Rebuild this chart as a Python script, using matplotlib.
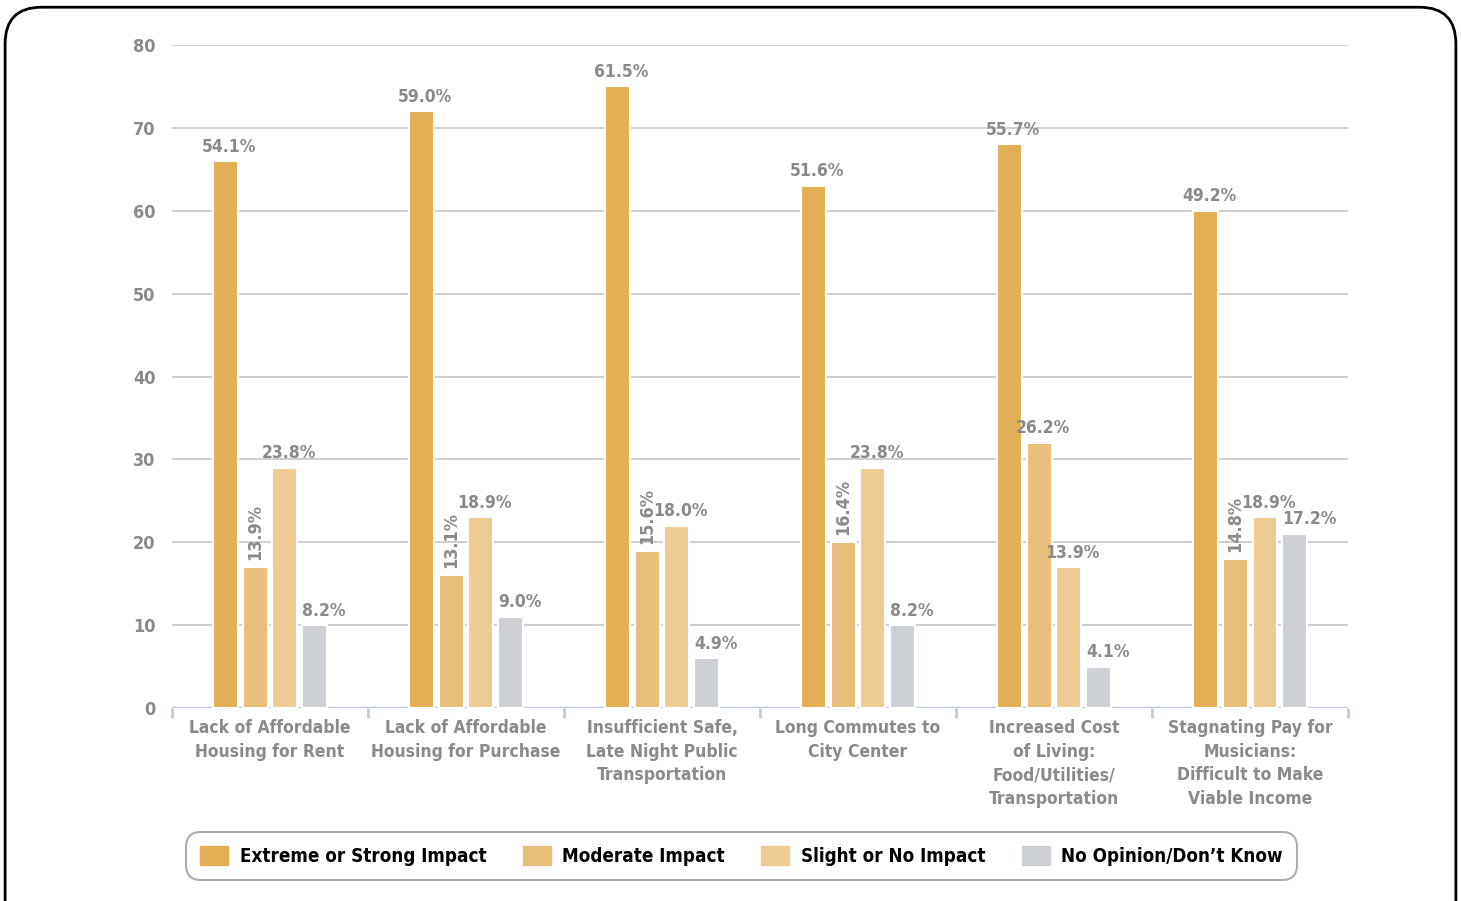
import numpy as np
import matplotlib
matplotlib.use('Agg')
import matplotlib.pyplot as plt
from matplotlib.patches import FancyBboxPatch

plt.rcParams['font.family'] = ['DejaVu Sans']
plt.rcParams['font.stretch'] = 'condensed'
plt.rcParams['font.weight'] = 'bold'

# data
categories = ['Lack of Affordable\nHousing for Rent',
              'Lack of Affordable\nHousing for Purchase',
              'Insufficient Safe,\nLate Night Public\nTransportation',
              'Long Commutes to\nCity Center',
              'Increased Cost\nof Living:\nFood/Utilities/\nTransportation',
              'Stagnating Pay for\nMusicians:\nDifficult to Make\nViable Income']
series = ['Extreme or Strong Impact', 'Moderate Impact', 'Slight or No Impact', 'No Opinion/Don\u2019t Know']
extreme = [66, 72, 75, 63, 68, 60]
moderate = [17, 16, 19, 20, 32, 18]
slight = [29, 23, 22, 29, 17, 23]
no_opinion = [10, 11, 6, 10, 5, 21]
pct_extreme = ['54.1%', '59.0%', '61.5%', '51.6%', '55.7%', '49.2%']
pct_moderate = ['13.9%', '13.1%', '15.6%', '16.4%', '26.2%', '14.8%']
pct_slight = ['23.8%', '18.9%', '18.0%', '23.8%', '13.9%', '18.9%']
pct_no_opinion = ['8.2%', '9.0%', '4.9%', '8.2%', '4.1%', '17.2%']

values = [extreme, moderate, slight, no_opinion]
labels = [pct_extreme, pct_moderate, pct_slight, pct_no_opinion]
colors = ['#e2af55', '#e8bf78', '#efcc93', '#cdd1d6']
label_gray = '#8a8a8a'
axis_blue = '#bccbdd'

fig = plt.figure(figsize=(14.61, 9.01), dpi=100)
ax = fig.add_axes([0.1177, 0.2142, 0.805, 0.7358])

x = np.arange(len(categories))
width = 0.127
offsets = [-0.228, -0.076, 0.076, 0.228]

for k in range(4):
    bars = ax.bar(x + offsets[k], values[k], width, color=colors[k],
                  edgecolor='white', linewidth=1.5, zorder=3)
    for i, b in enumerate(bars):
        h = b.get_height()
        cx = b.get_x() + b.get_width() / 2
        # moderate labels get turned when the next bar is taller
        if k == 1 and values[2][i] > h:
            ax.annotate(labels[k][i], (cx, h), xytext=(0, 5), textcoords='offset points',
                        ha='center', va='bottom', rotation=90, fontsize=13,
                        color=label_gray, fontweight='bold')
        elif k == 3:
            # last series labels start at the bar's left edge
            ax.annotate(labels[k][i], (b.get_x(), h), xytext=(0, 4), textcoords='offset points',
                        ha='left', va='bottom', fontsize=12.5,
                        color=label_gray, fontweight='bold')
        else:
            ax.annotate(labels[k][i], (cx + 0.02, h), xytext=(0, 4), textcoords='offset points',
                        ha='center', va='bottom', fontsize=12.5,
                        color=label_gray, fontweight='bold')

ax.set_ylim(0, 80)
ax.set_xlim(-0.5, len(categories) - 0.5)
ax.set_yticks(np.arange(0, 81, 10))
ax.yaxis.grid(True, color='#cccccc', linewidth=1.3, zorder=0)
ax.set_axisbelow(True)
for s in ['left', 'right', 'top', 'bottom']:
    ax.spines[s].set_visible(False)
ax.axhline(0, color=axis_blue, linewidth=2.5, zorder=2)

ax.tick_params(axis='y', length=0, pad=12, labelsize=13, labelcolor=label_gray)
ax.set_xticks(x)
ax.set_xticklabels(categories, fontsize=12.5, color=label_gray, linespacing=1.4)
ax.set_xticks(np.arange(-0.5, len(categories), 1), minor=True)
ax.tick_params(axis='x', which='major', length=0, pad=8)
ax.tick_params(axis='x', which='minor', length=7, width=2, color=axis_blue, direction='out')

handles = [plt.Rectangle((0, 0), 1, 1, color=c) for c in colors]
leg = fig.legend(handles, series, loc='center', bbox_to_anchor=(0.5075, 0.05), ncol=4,
                 frameon=True, fontsize=13.5, handlelength=1.5, handleheight=1.2,
                 columnspacing=1.95, handletextpad=0.6, borderpad=0.55)
leg.get_frame().set_edgecolor('#999999')
leg.get_frame().set_linewidth(1.5)
leg.get_frame().set_boxstyle('round,pad=0.2,rounding_size=0.8')
for t in leg.get_texts():
    t.set_color('black')

frame = FancyBboxPatch((0.0035, -0.05), 0.993, 1.042, boxstyle='round,pad=0,rounding_size=0.025',
                       transform=fig.transFigure, fill=False, edgecolor='black', linewidth=2,
                       mutation_aspect=1461 / 901)
fig.patches.append(frame)

fig.savefig('out.png', dpi=100)
